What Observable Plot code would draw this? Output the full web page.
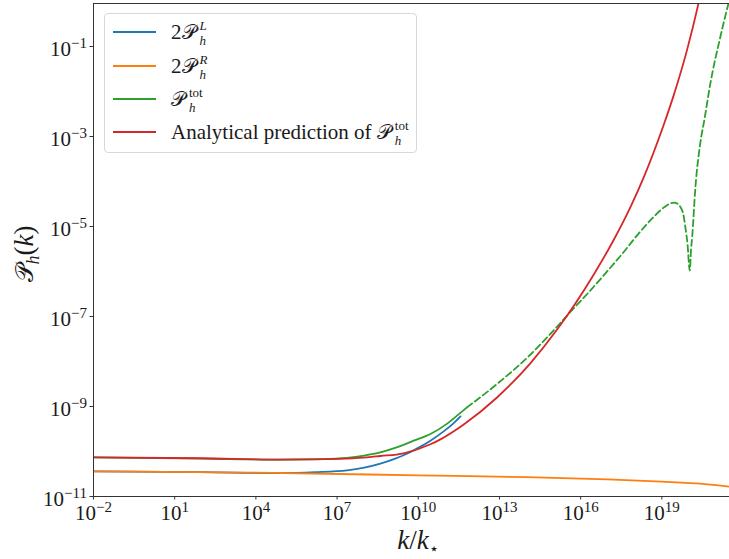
<!DOCTYPE html>
<html><head><meta charset="utf-8">
<script src="https://cdn.jsdelivr.net/npm/d3@7"></script>
<script src="https://cdn.jsdelivr.net/npm/@observablehq/plot@0.6"></script>
<style>
body{margin:0;background:#fff}
#wrap{position:relative;width:729px;height:559px;font-family:"Liberation Serif","DejaVu Serif",serif;color:#1a1a1a}
#legend{position:absolute;left:104px;top:13px;width:313px;height:140px;border:1px solid #d8d8d8;border-radius:4px;background:rgba(255,255,255,0.8);box-sizing:border-box}
.sw{position:absolute;left:8px;width:43px;height:0;border-top:2px solid}
.lab{position:absolute;left:66px;font-size:21px;line-height:24px;white-space:nowrap}
.m{font-family:"DejaVu Serif","DejaVu Sans",serif;font-size:20px}
.ss{display:inline-block;vertical-align:-6px;font-size:13px;line-height:15px;margin-left:4px}
.ss span,.ss i{display:block}
</style></head>
<body>
<div id="wrap"><div id="chart"></div>
<div id="legend"></div>
</div>
<script>
// tick exponents
const xTickExps = [-2, 1, 4, 7, 10, 13, 16, 19];
const yTickExps = [-11, -9, -7, -5, -3, -1];

// 2P_h^L (blue): log10 k, log10 P
const blueLogK = [-2, 2, 4.91, 6.2, 7.37, 8.0, 8.6, 9.1, 9.58, 10.0, 10.45, 10.9, 11.31, 11.56];
const blueLogP = [-10.44, -10.46, -10.48, -10.46, -10.42, -10.36, -10.27, -10.17, -10.05, -9.92, -9.76, -9.57, -9.37, -9.22];

// 2P_h^R (orange)
const orangeLogK = [-2, 4, 10, 14, 17, 19, 20.5, 21.5];
const orangeLogP = [-10.44, -10.47, -10.53, -10.57, -10.62, -10.67, -10.72, -10.78];

// P_h^tot (green, solid part)
const greenLogK = [-2, 2, 4.91, 6.5, 7.37, 8.0, 8.6, 9.2, 9.83, 10.45, 11.07, 11.5, 11.8];
const greenLogP = [-10.13, -10.16, -10.18, -10.17, -10.14, -10.09, -10.02, -9.91, -9.76, -9.61, -9.38, -9.17, -9.02];

// P_h^tot (green, dashed part)
const greenDashLogK = [11.8, 12.91, 14.14, 15.0, 15.62, 16.24, 17.22, 17.6, 17.96, 18.58, 19.07, 19.3, 19.44, 19.6, 19.69, 19.8, 19.87, 19.95, 20.03, 20.08, 20.12, 20.24, 20.42, 20.58, 20.79, 21.16, 21.5];
const greenDashLogP = [-9.02, -8.5, -7.85, -7.31, -6.9, -6.5, -5.83, -5.56, -5.29, -4.86, -4.58, -4.49, -4.47, -4.5, -4.57, -4.75, -5.02, -5.4, -5.98, -5.5, -5.24, -4.13, -3.15, -2.6, -1.83, -0.79, 0.05];

// Analytical prediction (red)
const redLogK = [-2, 2, 4.91, 7.37, 8.6, 9.46, 10.45, 10.82, 11.68, 12.91, 14.14, 15.13, 16.48, 17.22, 17.84, 18.33, 19.07, 19.44, 19.93, 20.36, 20.6];
const redLogP = [-10.13, -10.15, -10.18, -10.16, -10.1, -10.04, -9.84, -9.73, -9.4, -8.8, -8.04, -7.29, -6.07, -5.3, -4.57, -3.91, -2.74, -2.08, -1.08, -0.03, 0.63];

const series = [
  {color: "#1f77b4", sup: "L", pre: "2"},
  {color: "#ff7f0e", sup: "R", pre: "2"},
  {color: "#2ca02c", sup: "tot", pre: ""},
  {color: "#d62728", sup: "tot", pre: "Analytical prediction of "}
];

const pts = (lk, lp) => lk.map((v, i) => ({k: 10 ** v, p: 10 ** lp[i]}));
const xMin = 1e-2, xMax = 10 ** 21.5, yMin = 1e-11, yMax = 10 ** -0.044;
const lw = 1.8;

const chart = Plot.plot({
  width: 729, height: 559,
  marginLeft: 93, marginRight: 0, marginTop: 3, marginBottom: 63,
  style: {fontFamily: '"Liberation Serif", serif', fontSize: "21px", color: "#1a1a1a", background: "white", overflow: "visible"},
  x: {type: "log", domain: [xMin, xMax]},
  y: {type: "log", domain: [yMin, yMax]},
  marks: [
    Plot.line(pts(blueLogK, blueLogP), {x: "k", y: "p", stroke: series[0].color, strokeWidth: lw, curve: "monotone-x", clip: true}),
    Plot.line(pts(orangeLogK, orangeLogP), {x: "k", y: "p", stroke: series[1].color, strokeWidth: lw, curve: "monotone-x", clip: true}),
    Plot.line(pts(greenLogK, greenLogP), {x: "k", y: "p", stroke: series[2].color, strokeWidth: lw, curve: "monotone-x", clip: true}),
    Plot.line(pts(greenDashLogK, greenDashLogP), {x: "k", y: "p", stroke: series[2].color, strokeWidth: lw, strokeDasharray: "6.5,3.5", curve: "monotone-x", clip: true}),
    Plot.line(pts(redLogK, redLogP), {x: "k", y: "p", stroke: series[3].color, strokeWidth: lw, curve: "monotone-x", clip: true}),
    Plot.ruleX([xMin], {stroke: "#333", strokeWidth: 1}),
    Plot.ruleY([yMin, yMax], {stroke: "#333", strokeWidth: 1}),
    Plot.axisX(xTickExps.map(e => 10 ** e), {tickSize: 3.5, tickPadding: 5, stroke: "#333", fontSize: 21, label: null, tickFormat: d => String(Math.round(Math.log10(d)))}),
    Plot.axisY(yTickExps.map(e => 10 ** e), {tickSize: 3.5, tickPadding: 3, stroke: "#333", fontSize: 21, label: null, tickFormat: d => String(Math.round(Math.log10(d)))})
  ]
});
document.getElementById("chart").appendChild(chart);

const svg = d3.select(chart);
// superscript exponents on tick labels
svg.selectAll('g[aria-label="x-axis tick label"] text').each(function() {
  const e = this.textContent.replace("-", "\u2212");
  const t = d3.select(this); t.text("");
  t.append("tspan").text("10");
  t.append("tspan").attr("dy", "-8").attr("font-size", "15px").text(e);
});
svg.selectAll('g[aria-label="y-axis tick label"] text').each(function() {
  const e = this.textContent.replace("-", "\u2212");
  const t = d3.select(this); t.text("");
  t.append("tspan").attr("dy", "3").text("10");
  t.append("tspan").attr("dy", "-8").attr("font-size", "15px").text(e);
});

// y label: P_h(k)
const yl = svg.append("text").attr("transform", "translate(33,254) rotate(-90)")
  .attr("text-anchor", "middle").attr("font-size", "27px").attr("fill", "#1a1a1a");
yl.append("tspan").attr("font-family", '"DejaVu Serif", "DejaVu Sans", serif').attr("font-size", "25px").text("\u{1D4AB}");
yl.append("tspan").attr("font-size", "18px").attr("font-style", "italic").attr("dy", "6").text("h");
yl.append("tspan").attr("dy", "-6").text("(");
yl.append("tspan").attr("font-style", "italic").text("k");
yl.append("tspan").text(")");

// x label: k/k_star
const xl = svg.append("text").attr("transform", "translate(418,549)")
  .attr("text-anchor", "middle").attr("font-size", "27px").attr("fill", "#1a1a1a");
xl.append("tspan").attr("font-style", "italic").text("k");
xl.append("tspan").text("/");
xl.append("tspan").attr("font-style", "italic").text("k");
xl.append("tspan").attr("font-size", "16px").attr("dy", "5").text("\u22C6");

// legend
const legend = d3.select("#legend");
const rowY = [18, 52, 85, 118];
series.forEach((s, i) => {
  legend.append("div").attr("class", "sw").style("top", (rowY[i] - 1) + "px").style("border-color", s.color);
  const lab = legend.append("div").attr("class", "lab").style("top", (rowY[i] - 14) + "px");
  lab.append("span").text(s.pre);
  lab.append("span").attr("class", "m").text("\u{1D4AB}");
  const ss = lab.append("span").attr("class", "ss");
  if (s.sup === "tot") ss.append("span").text("tot"); else ss.append("i").text(s.sup);
  ss.append("i").text("h");
});
</script>
</body></html>
